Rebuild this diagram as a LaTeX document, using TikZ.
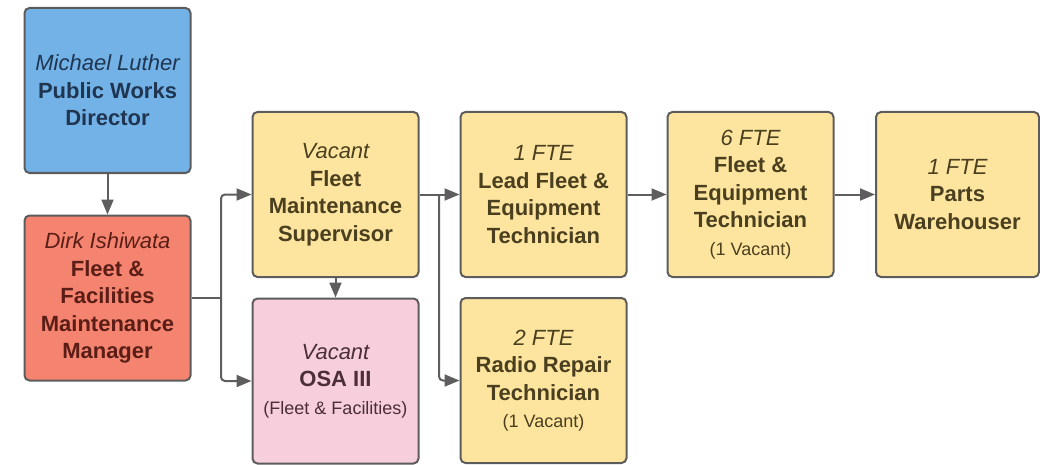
\documentclass[tikz,border=0pt]{standalone}
\usepackage{fontspec}
\setmainfont{Liberation Sans}
\usetikzlibrary{arrows.meta}
\definecolor{boxedge}{HTML}{5C5C5C}
\definecolor{linkgray}{HTML}{5E5E5E}
\definecolor{dirblue}{HTML}{73B2E6}
\definecolor{dirtext}{HTML}{1F3550}
\definecolor{mgrred}{HTML}{F4846F}
\definecolor{mgrtext}{HTML}{5A1E17}
\definecolor{staffyellow}{HTML}{FDE5A0}
\definecolor{stafftext}{HTML}{4A3F1E}
\definecolor{osapink}{HTML}{F7CEDC}
\definecolor{osatext}{HTML}{4B2E37}
\newcommand{\who}[1]{{\mdseries\itshape #1}}
\newcommand{\fine}[1]{{\mdseries\fontsize{18}{21}\selectfont #1}}
\tikzset{
  post/.style={draw=boxedge, line width=2pt, rounded corners=5pt,
    minimum width=166pt, minimum height=165pt, inner sep=0pt, align=center,
    font=\fontsize{22}{27.5}\selectfont\bfseries},
  link/.style={draw=linkgray, line width=2pt, rounded corners=4pt},
  feed/.style={link, -{Triangle[length=15pt,width=12pt]}}
}

\begin{document}
\begin{tikzpicture}[x=1pt, y=-1pt]
\useasboundingbox (0,0) rectangle (1040,465);
\node[post, fill=dirblue, text=dirtext] (dir) at (107.5,90.5) {\who{Michael Luther}\\Public Works\\Director};
\node[post, fill=mgrred, text=mgrtext] (mgr) at (107.5,298) {\who{Dirk Ishiwata}\\Fleet \&\\Facilities\\Maintenance\\Manager};
\node[post, fill=staffyellow, text=stafftext] (sup) at (335.5,194.5) {\who{Vacant}\\Fleet\\Maintenance\\Supervisor};
\node[post, fill=osapink, text=osatext] (osa) at (335.5,381) {\who{Vacant}\\OSA III\\\fine{(Fleet \& Facilities)}};
\node[post, fill=staffyellow, text=stafftext] (lead) at (543.5,194.5) {\who{1 FTE}\\Lead Fleet \&\\Equipment\\Technician};
\node[post, fill=staffyellow, text=stafftext] (radio) at (543.5,380.5) {\who{2 FTE}\\Radio Repair\\Technician\\\fine{(1 Vacant)}};
\node[post, fill=staffyellow, text=stafftext] (tech) at (750.5,194.5) {\who{6 FTE}\\Fleet \&\\Equipment\\Technician\\\fine{(1 Vacant)}};
\node[post, fill=staffyellow, text=stafftext, minimum width=163pt] (parts) at (957.5,194.5) {\who{1 FTE}\\Parts\\Warehouser};
\coordinate (mgrfork) at (221,298);
\coordinate (supfork) at (439,194.5);
\draw[feed] (dir) -- (mgr);
\draw[link] (mgr.east) -- (mgrfork);
\draw[feed] (mgrfork) |- (sup.west);
\draw[feed] (mgrfork) |- (osa.west);
\draw[feed] (sup) -- (osa);
\draw[feed] (sup.east) -- (lead.west);
\draw[feed] (supfork) |- (radio.west);
\draw[feed] (lead) -- (tech);
\draw[feed] (tech) -- (parts);
\end{tikzpicture}
\end{document}
